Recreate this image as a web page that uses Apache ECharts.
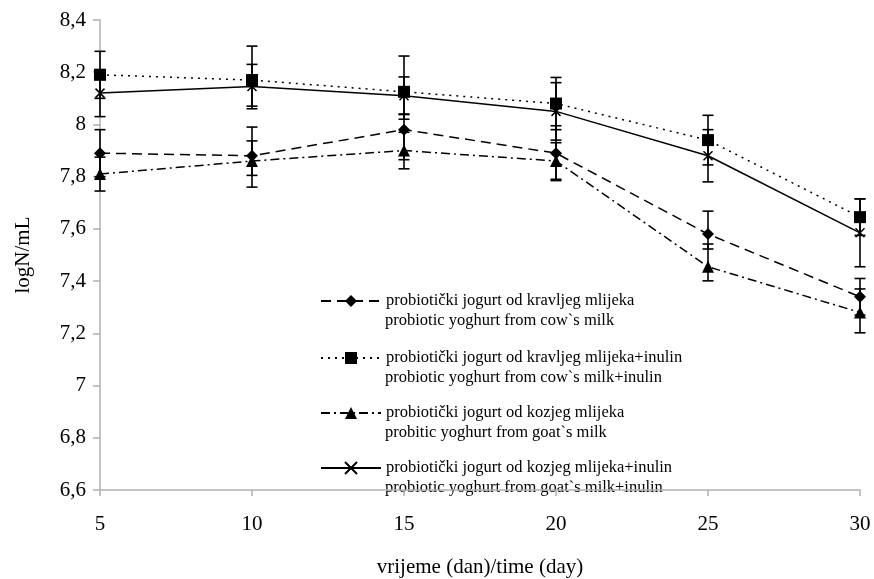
<!DOCTYPE html>
<html>
<head>
<meta charset="utf-8">
<script src="https://cdn.jsdelivr.net/npm/echarts@6/dist/echarts.min.js"></script>
<style>html,body{margin:0;padding:0;background:#fff}#c{width:874px;height:579px}</style>
</head>
<body>
<div id="c"></div>
<script>
const days = [5, 10, 15, 20, 25, 30];

const namesLine1 = [
  'probiotički jogurt od kravljeg mlijeka',
  'probiotički jogurt od kravljeg mlijeka+inulin',
  'probiotički jogurt od kozjeg mlijeka',
  'probiotički jogurt od kozjeg mlijeka+inulin'
];
const namesLine2 = [
  'probiotic yoghurt from cow`s milk',
  'probiotic yoghurt from cow`s milk+inulin',
  'probitic yoghurt from goat`s milk',
  'probiotic yoghurt from goat`s milk+inulin'
];

const cow = [7.89, 7.88, 7.98, 7.89, 7.58, 7.34];
const cowErrPlus = [0.09, 0.11, 0.06, 0.105, 0.088, 0.07];
const cowErrMinus = [0.09, 0.12, 0.115, 0.105, 0.057, 0.07];

const cowInulin = [8.19, 8.17, 8.125, 8.08, 7.94, 7.645];
const cowInulinErrPlus = [0.09, 0.13, 0.137, 0.1, 0.095, 0.07];
const cowInulinErrMinus = [0.09, 0.10, 0.105, 0.1, 0.095, 0.07];

const goat = [7.81, 7.86, 7.90, 7.86, 7.455, 7.28];
const goatErrPlus = [0.065, 0.077, 0.07, 0.07, 0.087, 0.09];
const goatErrMinus = [0.065, 0.055, 0.07, 0.07, 0.054, 0.078];

const goatInulin = [8.12, 8.145, 8.11, 8.05, 7.88, 7.585];
const goatInulinErrPlus = [0.09, 0.085, 0.072, 0.11, 0.10, 0.13];
const goatInulinErrMinus = [0.09, 0.085, 0.072, 0.11, 0.10, 0.13];

const FONT = 'Liberation Serif';
const legendCenters = [301, 358, 413, 468];

function pairs(vals) { return days.map((d, i) => [d, vals[i]]); }
function errData(vals, plus, minus) {
  return days.map((d, i) => [d, vals[i] - minus[i], vals[i] + plus[i]]);
}
function errSeries(vals, plus, minus) {
  return {
    type: 'custom',
    silent: true,
    z: 1,
    encode: { x: 0, y: [1, 2] },
    data: errData(vals, plus, minus),
    renderItem: function (params, api) {
      const x = api.value(0);
      const lo = api.coord([x, api.value(1)]);
      const hi = api.coord([x, api.value(2)]);
      const w = 5.5;
      const st = { stroke: '#000', lineWidth: 1.6 };
      return {
        type: 'group',
        children: [
          { type: 'line', shape: { x1: lo[0], y1: lo[1], x2: hi[0], y2: hi[1] }, style: st },
          { type: 'line', shape: { x1: lo[0] - w, y1: lo[1], x2: lo[0] + w, y2: lo[1] }, style: st },
          { type: 'line', shape: { x1: hi[0] - w, y1: hi[1], x2: hi[0] + w, y2: hi[1] }, style: st }
        ]
      };
    }
  };
}
function lineSeries(name, vals, dash, symbol, size, extraItem) {
  return {
    name: name,
    type: 'line',
    z: 3,
    data: pairs(vals),
    symbol: symbol,
    symbolSize: size,
    showAllSymbol: true,
    lineStyle: { color: '#000', width: 1.5, type: dash },
    itemStyle: Object.assign({ color: '#000', borderColor: '#000', borderWidth: 0 }, extraItem || {}),
    emphasis: { disabled: true },
    animation: false
  };
}

const legends = namesLine1.map((n, i) => ({
  data: [n],
  orient: 'vertical',
  left: 320,
  top: legendCenters[i] - 10,
  padding: 0,
  itemWidth: 60,
  itemHeight: 15,
  textStyle: { fontFamily: FONT, fontSize: 16.5, color: '#000', lineHeight: 20 },
  selectedMode: false
}));

const secondLines = namesLine2.map((t, i) => ({
  type: 'text',
  left: 385,
  top: legendCenters[i] + 20 - 9,
  style: { text: t, font: '16.5px "' + FONT + '"', fill: '#000' }
}));

const chart = echarts.init(document.getElementById('c'), null, { renderer: 'canvas' });
chart.setOption({
  animation: false,
  backgroundColor: '#fff',
  textStyle: { fontFamily: FONT },
  grid: { left: 100, right: 14, top: 20, bottom: 89, containLabel: false, outerBoundsMode: 'none' },
  xAxis: {
    type: 'value',
    min: 5, max: 30, interval: 5,
    name: 'vrijeme (dan)/time (day)',
    nameLocation: 'middle',
    nameGap: 67,
    nameTextStyle: { fontFamily: FONT, fontSize: 21, color: '#000' },
    axisLine: { lineStyle: { color: '#b0b0b0', width: 1.5 } },
    axisTick: { show: true, length: 6, lineStyle: { color: '#b0b0b0', width: 1.5 } },
    axisLabel: { fontFamily: FONT, fontSize: 21, color: '#000', margin: 24 },
    splitLine: { show: false }
  },
  yAxis: {
    type: 'value',
    min: 6.6, max: 8.4, interval: 0.2,
    name: 'logN/mL',
    nameLocation: 'middle',
    nameGap: 66,
    nameTextStyle: { fontFamily: FONT, fontSize: 21, color: '#000' },
    axisLine: { show: true, lineStyle: { color: '#b0b0b0', width: 1.5 } },
    axisTick: { show: true, length: 7, lineStyle: { color: '#b0b0b0', width: 1.5 } },
    axisLabel: {
      fontFamily: FONT, fontSize: 21, color: '#000', margin: 14,
      formatter: function (v) { return String(Number(v.toFixed(1))).replace('.', ','); }
    },
    splitLine: { show: false }
  },
  legend: legends,
  graphic: secondLines,
  series: [
    errSeries(cow, cowErrPlus, cowErrMinus),
    errSeries(cowInulin, cowInulinErrPlus, cowInulinErrMinus),
    errSeries(goat, goatErrPlus, goatErrMinus),
    errSeries(goatInulin, goatInulinErrPlus, goatInulinErrMinus),
    lineSeries(namesLine1[0], cow, [10, 6], 'diamond', 12),
    lineSeries(namesLine1[1], cowInulin, [2, 5], 'rect', 12),
    lineSeries(namesLine1[2], goat, [9, 4, 2, 4], 'triangle', 12),
    lineSeries(namesLine1[3], goatInulin, 'solid', 'path://M0,0L10,10M10,0L0,10', 9,
      { color: 'none', borderColor: '#000', borderWidth: 1.5 })
  ]
});
</script>
</body>
</html>
